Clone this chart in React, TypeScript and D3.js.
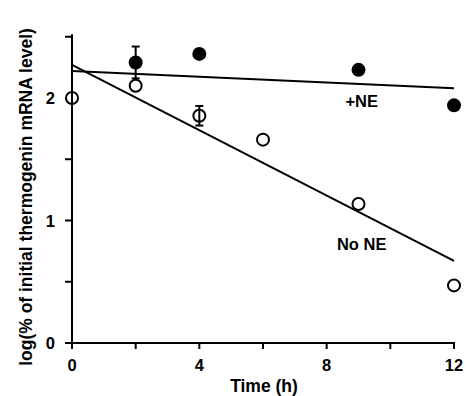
import * as d3 from 'd3';
import { useEffect, useRef } from 'react';

const neTimes = [2, 4, 9, 12];
const neValues = [2.29, 2.36, 2.23, 1.94];
const neErrors = [0.13, 0, 0, 0];

const noNeTimes = [0, 2, 4, 6, 9, 12];
const noNeValues = [2.0, 2.1, 1.855, 1.66, 1.135, 0.47];
const noNeErrors = [0, 0, 0.08, 0, 0, 0];

// fitted lines, value at t=0 and t=12
const fitTimes = [0, 12];
const neFit = [2.22, 2.08];
const noNeFit = [2.27, 0.67];

const xTicks = [0, 2, 4, 6, 8, 10, 12];
const xLabels = [0, 4, 8, 12];
const yTicks = [0, 0.5, 1, 1.5, 2, 2.5];
const yLabels = [0, 1, 2];

export default function App() {
  const ref = useRef<SVGSVGElement | null>(null);

  useEffect(() => {
    const width = 466;
    const height = 396;
    const svg = d3.select(ref.current);
    svg.selectAll('*').remove();
    svg.attr('width', width).attr('height', height);

    const x = d3.scaleLinear().domain([0, 12]).range([72, 454]);
    const y = d3.scaleLinear().domain([0, 2]).range([343, 98]);
    const font = '"Liberation Sans", Arial, sans-serif';

    const g = svg.append('g');

    // axes
    g.append('line')
      .attr('x1', x(0)).attr('x2', x(0))
      .attr('y1', y(2.52)).attr('y2', y(0))
      .attr('stroke', '#000').attr('stroke-width', 2);
    g.append('line')
      .attr('x1', x(0) - 7).attr('x2', x(12) + 1)
      .attr('y1', y(0)).attr('y2', y(0))
      .attr('stroke', '#000').attr('stroke-width', 2);

    yTicks.forEach((t) => {
      g.append('line')
        .attr('x1', x(0) - 7).attr('x2', x(0))
        .attr('y1', y(t)).attr('y2', y(t))
        .attr('stroke', '#000').attr('stroke-width', 2);
    });
    xTicks.forEach((t) => {
      g.append('line')
        .attr('x1', x(t)).attr('x2', x(t))
        .attr('y1', y(0)).attr('y2', y(0) + 6)
        .attr('stroke', '#000').attr('stroke-width', 2);
    });

    yLabels.forEach((t) => {
      g.append('text')
        .attr('x', x(0) - 17).attr('y', y(t) + 6)
        .attr('text-anchor', 'end')
        .attr('font-family', font).attr('font-weight', 'bold').attr('font-size', 16.5)
        .text(t);
    });
    xLabels.forEach((t) => {
      g.append('text')
        .attr('x', x(t)).attr('y', 371)
        .attr('text-anchor', 'middle')
        .attr('font-family', font).attr('font-weight', 'bold').attr('font-size', 16.5)
        .text(t);
    });

    g.append('text')
      .attr('x', 264).attr('y', 392)
      .attr('text-anchor', 'middle')
      .attr('font-family', font).attr('font-weight', 'bold').attr('font-size', 17.5)
      .text('Time (h)');
    g.append('text')
      .attr('transform', `translate(32,${197}) rotate(-90)`)
      .attr('text-anchor', 'middle')
      .attr('font-family', font).attr('font-weight', 'bold').attr('font-size', 17.5)
      .text('log(% of initial thermogenin mRNA level)');

    // fitted lines
    const line = d3.line<number>().x((_, i) => x(fitTimes[i])).y((d) => y(d));
    g.append('path').attr('d', line(neFit) ?? '').attr('fill', 'none')
      .attr('stroke', '#000').attr('stroke-width', 2);
    g.append('path').attr('d', line(noNeFit) ?? '').attr('fill', 'none')
      .attr('stroke', '#000').attr('stroke-width', 2);

    // error bars
    const errBar = (t: number, v: number, e: number) => {
      if (!e) return;
      g.append('line')
        .attr('x1', x(t)).attr('x2', x(t))
        .attr('y1', y(v + e)).attr('y2', y(v - e))
        .attr('stroke', '#000').attr('stroke-width', 2);
      [v + e, v - e].forEach((b) => {
        g.append('line')
          .attr('x1', x(t) - 4).attr('x2', x(t) + 4)
          .attr('y1', y(b)).attr('y2', y(b))
          .attr('stroke', '#000').attr('stroke-width', 2);
      });
    };
    neTimes.forEach((t, i) => errBar(t, neValues[i], neErrors[i]));
    noNeTimes.forEach((t, i) => errBar(t, noNeValues[i], noNeErrors[i]));

    noNeTimes.forEach((t, i) => {
      g.append('circle')
        .attr('cx', x(t)).attr('cy', y(noNeValues[i])).attr('r', 6)
        .attr('fill', noNeErrors[i] ? 'none' : '#fff').attr('stroke', '#000').attr('stroke-width', 2);
    });
    neTimes.forEach((t, i) => {
      g.append('circle')
        .attr('cx', x(t)).attr('cy', y(neValues[i])).attr('r', 7)
        .attr('fill', '#000');
    });
    // axis line through the t=0 open circle
    g.append('line')
      .attr('x1', x(0)).attr('x2', x(0))
      .attr('y1', y(noNeValues[0]) - 7).attr('y2', y(noNeValues[0]) + 7)
      .attr('stroke', '#000').attr('stroke-width', 2);

    g.append('text')
      .attr('x', x(9.1)).attr('y', y(1.93))
      .attr('text-anchor', 'middle')
      .attr('font-family', font).attr('font-weight', 'bold').attr('font-size', 16.5)
      .text('+NE');
    g.append('text')
      .attr('x', x(9.1)).attr('y', y(0.76))
      .attr('text-anchor', 'middle')
      .attr('font-family', font).attr('font-weight', 'bold').attr('font-size', 16.5)
      .text('No NE');
  }, []);

  return (
    <div style={{ position: 'absolute', left: 0, top: 0, background: '#fff' }}>
      <svg ref={ref} style={{ display: 'block' }} />
    </div>
  );
}
